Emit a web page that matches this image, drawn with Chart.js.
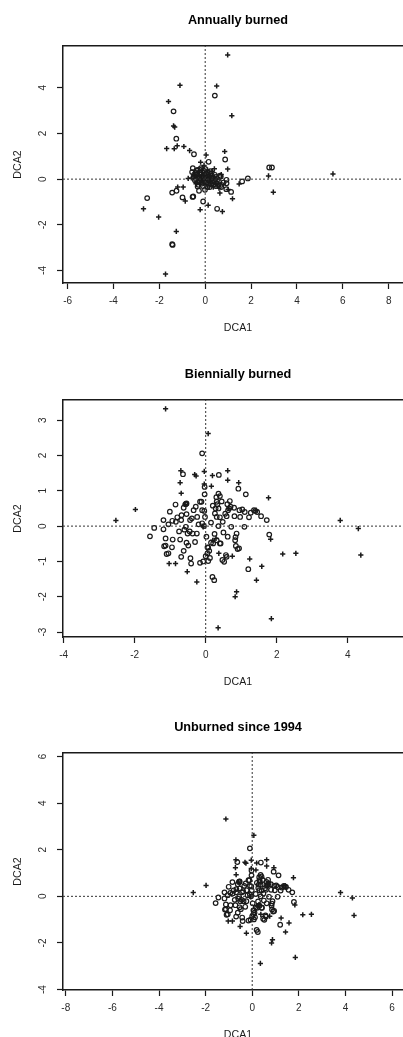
<!DOCTYPE html>
<html>
<head>
<meta charset="utf-8">
<script src="https://cdn.jsdelivr.net/npm/chart.js@4.4.1/dist/chart.umd.min.js"></script>
<style>
  html, body { margin: 0; padding: 0; background: #fff; overflow: hidden; }
  body { width: 403px; height: 1037px; position: relative; }
  .panel { position: absolute; left: 0; width: 476px; height: 354px; }
</style>
</head>
<body>
<div class="panel" style="top:0"><canvas id="annual"></canvas></div>
<div class="panel" style="top:354px"><canvas id="biennial"></canvas></div>
<div class="panel" style="top:707px"><canvas id="unburned"></canvas></div>
<script>
"use strict";
// DCA scores, [DCA1, DCA2]. circles and plus signs are the two kinds of points.
const annualCircles = [
  [0.42, 3.66], [-1.38, 2.97], [-1.26, 1.77], [-0.49, 1.09], [0.87, 0.86], [0.15, 0.76],
  [2.79, 0.51], [2.91, 0.51], [1.86, 0.03], [1.61, -0.10], [1.13, -0.56], [0.52, -1.30],
  [-0.09, -0.98], [-0.99, -0.80], [-1.44, -0.59], [-1.25, -0.51], [-2.53, -0.83],
  [-1.44, -2.85], [-1.42, -2.88], [-0.52, -0.76], [-0.55, -0.78], [-0.54, 0.48],
  [-0.57, 0.31], [-0.38, 0.38], [-0.19, 0.48], [0.42, 0.19], [0.68, 0.11], [0.93, -0.03],
  [0.93, -0.18], [0.92, -0.44], [-0.27, -0.51], [-0.01, -0.47], [0.10, -0.35], [-0.33, -0.32],
  [0.50, -0.18], [0.71, -0.25], [0.70, -0.35], [-0.30, 0.10], [-0.20, 0.20], [-0.10, 0.05],
  [0.00, 0.15], [0.10, 0.00], [0.20, 0.10], [-0.40, 0.00], [-0.25, -0.10], [-0.15, -0.20],
  [0.05, -0.15], [0.15, -0.25], [0.30, -0.10], [0.35, 0.05], [-0.05, 0.30], [0.10, 0.30],
  [-0.35, 0.22], [0.25, 0.25], [-0.45, -0.05], [-0.10, -0.30], [0.20, -0.35], [0.45, -0.30],
  [-0.20, 0.40], [0.00, 0.45], [0.30, 0.15], [-0.30, -0.25], [0.55, 0.00], [0.60, -0.10],
  [0.05, 0.05], [-0.10, 0.15], [0.15, 0.20], [-0.50, 0.10], [-0.15, -0.05], [0.25, -0.20],
  [0.80, -0.15], [0.65, 0.15], [-0.42, 0.30], [-0.28, 0.02], [-0.18, 0.10], [-0.05, -0.08],
  [0.08, 0.12], [0.18, -0.08], [0.28, 0.02], [-0.35, -0.15], [-0.22, 0.30], [-0.08, 0.38],
  [0.12, -0.20], [0.38, -0.22], [-0.48, 0.20], [0.02, 0.24], [-0.12, -0.15], [0.22, 0.35],
  [0.48, 0.10], [-0.32, 0.40], [0.58, -0.25], [0.40, -0.05]
];
const annualPluses = [
  [0.98, 5.44], [-1.10, 4.11], [0.50, 4.08], [-1.60, 3.40], [1.16, 2.78], [-1.38, 2.33],
  [-1.33, 2.28], [-1.68, 1.34], [-1.35, 1.33], [-1.22, 1.46], [-0.93, 1.43], [-0.68, 1.25],
  [0.04, 1.06], [0.85, 1.21], [-0.20, 0.74], [2.76, 0.14], [5.57, 0.23], [2.97, -0.57],
  [0.98, 0.44], [1.48, -0.21], [1.19, -0.86], [0.75, -1.42], [0.13, -1.14], [-0.22, -1.34],
  [-0.87, -0.96], [-1.20, -0.35], [-0.96, -0.35], [-2.69, -1.30], [-2.03, -1.66],
  [-1.26, -2.29], [-1.73, -4.16], [0.64, -0.61], [1.00, -0.45], [-0.74, 0.03], [-0.60, 0.05],
  [-0.45, 0.15], [-0.30, 0.30], [0.10, 0.40], [0.30, 0.35], [0.45, -0.20], [0.60, -0.40],
  [-0.15, -0.05], [0.25, -0.05], [0.00, -0.25], [0.70, 0.20], [0.40, 0.45], [-0.05, 0.60],
  [-0.25, 0.15], [0.15, 0.05], [-0.40, -0.20], [0.35, -0.35]
];

const biennialCircles = [
  [-0.10, 2.06], [-0.64, 1.47], [0.37, 1.45], [-0.03, 1.11], [0.92, 1.06], [1.13, 0.90],
  [-0.03, 0.90], [0.36, 0.92], [0.40, 0.85], [-0.85, 0.61], [-0.54, 0.64], [-0.57, 0.62],
  [-0.12, 0.69], [0.31, 0.69], [0.68, 0.71], [0.33, 0.62], [-1.57, -0.29], [-1.45, -0.05],
  [-0.43, -0.91], [-0.41, -1.06], [-0.69, -0.87], [-1.05, -0.77], [-0.16, -1.04],
  [-0.07, -1.00], [0.07, -0.99], [0.19, -1.44], [0.24, -1.53], [0.47, -0.96], [0.59, -0.87],
  [1.20, -1.22], [1.79, -0.24], [0.85, -0.56], [0.90, -0.65], [0.84, -0.31], [0.87, -0.21],
  [0.83, -0.40], [0.72, -0.02], [1.09, -0.02], [0.36, 0.00], [0.50, -0.18], [0.42, -0.49],
  [0.15, -0.47], [0.07, -0.61], [0.05, -0.77], [0.00, -0.85], [1.40, 0.43], [1.36, 0.45],
  [1.56, 0.28], [1.72, 0.17], [1.22, 0.25], [1.27, 0.38], [0.95, 0.45], [1.03, 0.47],
  [0.81, 0.28], [0.63, 0.45], [0.66, 0.50], [0.61, 0.62], [0.59, 0.28], [0.97, 0.26],
  [0.40, 0.25], [0.26, 0.36], [0.28, 0.50], [0.36, 0.50], [0.31, 0.26], [-1.19, 0.17],
  [-1.19, -0.09], [-1.01, 0.41], [-0.84, 0.12], [-0.94, 0.15], [-0.69, 0.17], [-0.68, 0.31],
  [-0.55, 0.63], [-0.39, 0.22], [-0.34, 0.45], [-0.54, 0.34], [-0.44, 0.17], [-0.24, 0.26],
  [-0.56, -0.02], [-0.51, -0.21], [-0.37, -0.21], [-0.54, -0.47], [-0.49, -0.55],
  [-1.13, -0.35], [-1.13, -0.55], [-1.17, -0.57], [-1.10, -0.79], [-0.93, -0.38],
  [-0.72, -0.38], [-0.25, -0.21], [-0.10, 0.08], [-0.05, 0.00], [-0.10, 0.45], [-0.04, 0.43],
  [-0.16, 0.69], [-0.60, -0.10], [-0.45, -0.15], [0.05, -0.60], [0.21, -0.49], [0.40, -0.49],
  [0.57, -0.82], [0.52, -1.01], [0.94, -0.63], [0.31, -0.40], [-0.02, 0.26], [0.10, -0.70],
  [0.12, -0.90], [0.30, 0.82], [0.45, 0.70], [0.70, 0.55], [0.55, 0.35], [0.80, 0.52],
  [1.10, 0.40], [1.45, 0.40], [0.20, 0.58], [0.48, 0.12], [0.62, -0.30], [0.25, -0.22],
  [-0.80, 0.25], [-1.05, 0.05], [-0.62, 0.52], [-0.28, 0.55], [-0.75, -0.15], [-0.30, -0.45],
  [-0.95, -0.60], [-0.20, 0.05], [0.15, 0.10], [-0.62, -0.70], [0.02, -0.30]
];
const biennialPluses = [
  [-1.13, 3.32], [0.07, 2.62], [-0.70, 1.57], [-0.31, 1.46], [-0.27, 1.42], [-0.04, 1.55],
  [0.19, 1.43], [0.62, 1.57], [0.62, 1.30], [-0.72, 1.23], [-0.04, 1.19], [0.16, 1.13],
  [0.93, 1.23], [1.77, 0.80], [-0.69, 0.93], [-2.53, 0.16], [-1.98, 0.47], [3.79, 0.16],
  [4.30, -0.07], [4.37, -0.82], [2.17, -0.79], [2.54, -0.77], [1.85, -2.62], [0.35, -2.88],
  [-0.25, -1.58], [-0.52, -1.29], [-1.03, -1.06], [-0.85, -1.06], [0.37, -0.77], [0.75, -0.85],
  [1.24, -0.93], [1.58, -1.14], [1.43, -1.53], [0.87, -1.86], [0.83, -2.00], [1.83, -0.37],
  [0.29, -0.35], [-0.07, -0.02], [0.20, -0.40], [1.42, 0.45], [-0.58, 0.62], [0.65, 0.50]
];
// the third panel of the source figure shows the same scores as the second one
const unburnedCircles = biennialCircles;
const unburnedPluses = biennialPluses;

const annualXLim = [-6.2, 9.06], annualYLim = [-4.55, 5.83];
const annualXTicks = [-6, -4, -2, 0, 2, 4, 6, 8], annualYTicks = [-4, -2, 0, 2, 4];
const biennialXLim = [-4.02, 5.84], biennialYLim = [-3.14, 3.57];
const biennialXTicks = [-4, -2, 0, 2, 4], biennialYTicks = [-3, -2, -1, 0, 1, 2, 3];
const unburnedXLim = [-8.12, 6.9], unburnedYLim = [-4.02, 6.15];
const unburnedXTicks = [-8, -6, -4, -2, 0, 2, 4, 6], unburnedYTicks = [-4, -2, 0, 2, 4, 6];

const FONT = "'Liberation Sans', Arial, Helvetica, sans-serif";
const INK = "#1a1a1a";

function toPoints(list) {
  return list.map(p => ({ x: p[0], y: p[1] }));
}

function frameAxis(pos, lim, size) {
  // an empty axis that only draws the box side
  return {
    position: pos, min: lim[0], max: lim[1],
    ticks: { display: false },
    grid: { drawOnChartArea: false, drawTicks: false },
    border: { display: true, color: INK, width: 1.5 },
    afterFit: s => { if (pos === "top") s.height = size; else s.width = size; }
  };
}

function makeChart(id, title, circles, pluses, xLim, yLim, xTicks, yTicks) {
  new Chart(document.getElementById(id), {
    type: "scatter",
    data: {
      datasets: [
        { data: [{ x: xLim[0], y: 0 }, { x: xLim[1], y: 0 }], showLine: true, pointRadius: 0,
          borderColor: "#333", borderWidth: 1, borderDash: [2, 2] },
        { data: [{ x: 0, y: yLim[0] }, { x: 0, y: yLim[1] }], showLine: true, pointRadius: 0,
          borderColor: "#333", borderWidth: 1, borderDash: [2, 2] },
        { data: toPoints(circles), pointStyle: "circle", pointRadius: 2.3,
          backgroundColor: "rgba(0,0,0,0)", borderColor: INK, borderWidth: 1.2 },
        { data: toPoints(pluses), pointStyle: "cross", pointRadius: 2.6,
          borderColor: INK, borderWidth: 1.5 }
      ]
    },
    options: {
      responsive: true,
      maintainAspectRatio: false,
      animation: false,
      events: [],
      layout: { padding: 0 },
      plugins: {
        legend: { display: false },
        tooltip: { enabled: false },
        title: {
          display: true, text: title, color: "#000",
          font: { family: FONT, size: 12.7, weight: "bold" },
          padding: { top: 12.4, bottom: 18.4 }
        }
      },
      scales: {
        x: {
          min: xLim[0], max: xLim[1],
          afterBuildTicks: s => { s.ticks = xTicks.map(v => ({ value: v })); },
          afterFit: s => { s.height = 71; },
          border: { display: true, color: INK, width: 1.5 },
          grid: { drawOnChartArea: false, tickLength: 6, tickColor: INK, tickWidth: 1.2 },
          ticks: { padding: 6, color: "#2a2a2a", autoSkip: false, maxRotation: 0,
                   font: { family: FONT, size: 10 } },
          title: { display: true, text: "DCA1", color: INK,
                   font: { family: FONT, size: 10.6 }, padding: { top: 0, bottom: 19.7 } }
        },
        y: {
          min: yLim[0], max: yLim[1],
          afterBuildTicks: s => { s.ticks = yTicks.map(v => ({ value: v })); },
          afterFit: s => { s.width = 63; },
          border: { display: true, color: INK, width: 1.5 },
          grid: { drawOnChartArea: false, tickLength: 6, tickColor: INK, tickWidth: 1.2 },
          ticks: { padding: 9, color: "#2a2a2a", autoSkip: false, minRotation: 90, maxRotation: 90,
                   crossAlign: "center", font: { family: FONT, size: 10 } },
          title: { display: true, text: "DCA2", color: INK,
                   font: { family: FONT, size: 10.6 }, padding: { top: 11.7, bottom: 0 } }
        },
        x2: frameAxis("top", xLim, 0),
        y2: frameAxis("right", yLim, 63)
      }
    }
  });
}

makeChart("annual", "Annually burned", annualCircles, annualPluses,
  annualXLim, annualYLim, annualXTicks, annualYTicks);
makeChart("biennial", "Biennially burned", biennialCircles, biennialPluses,
  biennialXLim, biennialYLim, biennialXTicks, biennialYTicks);
makeChart("unburned", "Unburned since 1994", unburnedCircles, unburnedPluses,
  unburnedXLim, unburnedYLim, unburnedXTicks, unburnedYTicks);
</script>
</body>
</html>
